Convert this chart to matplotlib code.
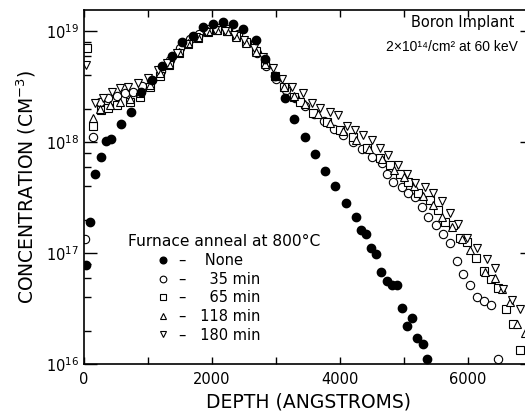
import numpy as np
import matplotlib.pyplot as plt
from matplotlib.ticker import LogLocator, MultipleLocator, NullFormatter

plt.rcParams['font.family'] = ['DejaVu Sans']
plt.rcParams['mathtext.fontset'] = 'dejavusans'

# -----------------------------
# Data (depth in Angstroms, concentration in cm^-3)
# -----------------------------

# No anneal
none_depth = [31, 94, 172, 266, 344, 422, 578, 734, 891, 1063,
              1219, 1375, 1531, 1703, 1859, 2016, 2172, 2328, 2484, 2688,
              2828, 2984, 3141, 3281, 3453, 3609, 3766, 3922, 4094, 4250,
              4328, 4406, 4484, 4563, 4641, 4734, 4813, 4891, 4969, 5047,
              5125, 5203, 5297, 5359]
none_conc = [7.8e16, 1.9e17, 5.2e17, 7.4e17, 1.02e18, 1.07e18, 1.45e18, 1.86e18, 2.8e18, 3.6e18,
             4.8e18, 6.0e18, 7.9e18, 9.1e18, 1.10e19, 1.17e19, 1.20e19, 1.17e19, 1.05e19, 8.3e18,
             5.6e18, 3.9e18, 2.5e18, 1.62e18, 1.12e18, 7.8e17, 5.5e17, 4.0e17, 2.8e17, 2.1e17,
             1.62e17, 1.48e17, 1.12e17, 9.8e16, 6.8e16, 5.6e16, 5.1e16, 5.2e16, 3.2e16, 2.2e16,
             2.6e16, 1.7e16, 1.5e16, 1.12e16]

# 35 min
m35_depth = [20, 141, 250, 375, 516, 641, 766, 900, 1050, 1200,
             1350, 1500, 1650, 1800, 1950, 2100, 2250, 2400, 2550, 2700,
             2850, 3000, 3150, 3300, 3450, 3600, 3750, 3900, 4050, 4200,
             4350, 4500, 4656, 4734, 4828, 4969, 5063, 5172, 5281, 5375,
             5500, 5609, 5719, 5828, 5922, 6031, 6141, 6250, 6359, 6469]
m35_conc = [1.35e17, 1.12e18, 2.3e18, 2.5e18, 2.6e18, 2.75e18, 2.8e18, 3.2e18, 3.6e18, 4.4e18,
            5.5e18, 7.1e18, 8.5e18, 9.5e18, 1.05e19, 1.07e19, 1.05e19, 9.5e18, 7.9e18, 6.3e18,
            4.8e18, 3.7e18, 2.95e18, 2.5e18, 2.1e18, 1.8e18, 1.55e18, 1.32e18, 1.15e18, 1.0e18,
            8.7e17, 7.4e17, 6.5e17, 5.2e17, 4.4e17, 3.9e17, 3.5e17, 3.2e17, 2.6e17, 2.1e17,
            1.78e17, 1.48e17, 1.23e17, 8.5e16, 6.5e16, 5.2e16, 4.0e16, 3.7e16, 3.4e16, 1.1e16]

# 65 min
m65_depth = [40, 141, 266, 375, 516, 719, 875, 1030, 1180, 1330,
             1480, 1630, 1780, 1930, 2080, 2230, 2380, 2530, 2680, 2830,
             2980, 3130, 3280, 3375, 3578, 3797, 4000, 4203, 4422, 4625,
             4781, 4938, 5063, 5219, 5406, 5531, 5641, 5766, 5875, 5984,
             6125, 6250, 6359, 6469, 6594, 6703, 6813]
m65_conc = [7.1e18, 1.41e18, 1.95e18, 2.04e18, 2.14e18, 2.3e18, 2.57e18, 3.16e18, 3.98e18, 5.0e18,
            6.3e18, 7.6e18, 8.7e18, 9.8e18, 1.02e19, 1.0e19, 9.1e18, 7.9e18, 6.6e18, 5.2e18,
            3.98e18, 3.16e18, 2.57e18, 2.3e18, 1.82e18, 1.51e18, 1.29e18, 1.10e18, 8.9e17, 7.2e17,
            6.2e17, 5.2e17, 4.4e17, 3.5e17, 3.0e17, 2.45e17, 1.9e17, 1.78e17, 1.38e17, 1.26e17,
            9.1e16, 6.9e16, 5.8e16, 4.8e16, 3.16e16, 2.3e16, 1.35e16]

# 118 min
m118_depth = [141, 250, 400, 560, 720, 880, 1030, 1180, 1330, 1480,
              1630, 1780, 1930, 2080, 2230, 2380, 2530, 2680, 2830, 2980,
              3130, 3280, 3450, 3650, 3850, 4050, 4250, 4450, 4650, 4850,
              5000, 5150, 5300, 5450, 5600, 5750, 5900, 6031, 6266, 6422,
              6531, 6656, 6766, 6891]
m118_conc = [1.66e18, 2.0e18, 2.14e18, 2.3e18, 2.45e18, 2.75e18, 3.3e18, 4.2e18, 5.1e18, 6.5e18,
             7.8e18, 8.9e18, 1.0e19, 1.02e19, 1.0e19, 8.9e18, 7.8e18, 6.5e18, 5.1e18, 3.98e18,
             3.16e18, 2.6e18, 2.2e18, 1.78e18, 1.48e18, 1.26e18, 1.05e18, 8.7e17, 7.1e17, 5.6e17,
             4.8e17, 4.0e17, 3.3e17, 2.7e17, 2.1e17, 1.7e17, 1.35e17, 1.07e17, 6.8e16, 5.9e16,
             4.7e16, 3.6e16, 2.3e16, 1.9e16]

# 180 min
m180_depth = [31, 172, 297, 438, 563, 688, 844, 1000, 1150, 1300,
              1450, 1600, 1750, 1900, 2050, 2200, 2350, 2500, 2650, 2800,
              2950, 3100, 3250, 3422, 3563, 3688, 3844, 3969, 4109, 4234,
              4359, 4500, 4625, 4750, 4906, 5047, 5172, 5328, 5453, 5594,
              5719, 5844, 5984, 6141, 6297, 6422, 6547, 6688, 6813]
m180_conc = [4.9e18, 2.24e18, 2.5e18, 2.8e18, 3.1e18, 3.16e18, 3.4e18, 3.8e18, 4.5e18, 5.2e18,
             6.3e18, 7.6e18, 8.9e18, 9.8e18, 1.02e19, 1.0e19, 9.3e18, 8.3e18, 7.1e18, 5.8e18,
             4.7e18, 3.7e18, 3.16e18, 2.75e18, 2.24e18, 2.04e18, 1.86e18, 1.74e18, 1.41e18, 1.29e18,
             1.15e18, 1.05e18, 8.9e17, 7.6e17, 6.2e17, 5.2e17, 4.3e17, 3.9e17, 3.5e17, 2.95e17,
             2.3e17, 1.82e17, 1.38e17, 1.12e17, 8.9e16, 7.4e16, 4.7e16, 3.8e16, 3.16e16]

labels = ['None', ' 35 min', ' 65 min', '118 min', '180 min']

# -----------------------------
# Plot
# -----------------------------
W, H = 525, 416
fig = plt.figure(figsize=(W / 100, H / 100), dpi=100)
ax = fig.add_axes([84 / W, 1 - 364 / H, (532 - 84) / W, (364 - 10) / H])

ms = 6.0
mew = 0.8
open_style = dict(linestyle='none', mfc='white', mec='black', mew=mew, ms=ms)

h35, = ax.plot(m35_depth, m35_conc, marker='o', label='–    ' + labels[1], **open_style)
h65, = ax.plot(m65_depth, m65_conc, marker='s', label='–    ' + labels[2], **open_style)
h118, = ax.plot(m118_depth, m118_conc, marker='^', label='–   ' + labels[3], **open_style)
h180, = ax.plot(m180_depth, m180_conc, marker='v', label='–   ' + labels[4], **open_style)
hnone, = ax.plot(none_depth, none_conc, marker='o', linestyle='none', color='black',
                 ms=ms, label='–    ' + labels[0])

ax.set_yscale('log')
ax.set_xlim(0, 7000)
ax.set_ylim(1e16, 1.55e19)

ax.xaxis.set_major_locator(MultipleLocator(2000))
ax.xaxis.set_minor_locator(MultipleLocator(1000))
ax.yaxis.set_major_locator(LogLocator(base=10))
ax.yaxis.set_minor_locator(LogLocator(base=10, subs=(2, 4, 6, 8)))
ax.yaxis.set_minor_formatter(NullFormatter())

ax.tick_params(which='both', direction='in', top=True, right=True, labelsize=10.5,
               width=1.0, color='black')
ax.tick_params(axis='y', which='major', length=9)
ax.tick_params(axis='y', which='minor', length=5)
ax.tick_params(axis='x', which='both', length=5)
ax.tick_params(axis='x', which='major', pad=6)

for s in ax.spines.values():
    s.set_linewidth(1.2)

ax.set_xlabel('DEPTH (ANGSTROMS)', fontsize=13.5, labelpad=4)
ax.set_ylabel('CONCENTRATION (CM$^{-3}$)', fontsize=13.5, labelpad=6)

fig.text(463 / W, 1 - 23 / H, 'Boron Implant', ha='center', va='center', fontsize=10.5)
fig.text(452 / W, 1 - 47 / H, '2×10¹⁴/cm² at 60 keV', ha='center', va='center',
         fontsize=10, family=['Liberation Sans', 'DejaVu Sans'])

fig.text(128 / W, 1 - 241 / H, 'Furnace anneal at 800°C', ha='left', va='center', fontsize=11.2)

leg = ax.legend(handles=[hnone, h35, h65, h118, h180], loc='upper left',
                bbox_to_anchor=((156 - 84) / 448, (364 - 253) / 354),
                frameon=False, fontsize=10.5, handlelength=1.0, handletextpad=0.6,
                labelspacing=0.25, borderpad=0, borderaxespad=0, markerscale=0.8)

fig.savefig('out.png', dpi=100)
